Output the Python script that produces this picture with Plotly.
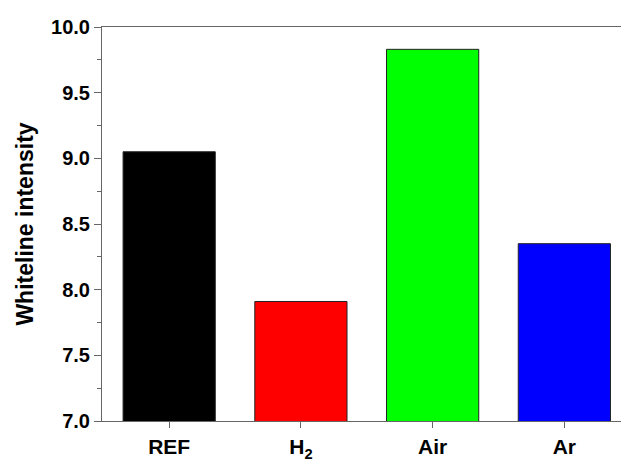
import plotly.graph_objects as go

# Whiteline intensity per treatment atmosphere
categories = ["REF", "H<sub>2</sub>", "Air", "Ar"]
intensity = [9.05, 7.91, 9.83, 8.35]
bar_colors = ["#000000", "#ff0000", "#00ff00", "#0000ff"]
y_ticks = [7.0, 7.5, 8.0, 8.5, 9.0, 9.5, 10.0]
y_tick_text = ["7.0", "7.5", "8.0", "8.5", "9.0", "9.5", "10.0"]

axis_grey = "#666666"
font_family = "Liberation Sans, Arial, sans-serif"

fig = go.Figure(
    go.Bar(
        x=list(range(len(categories))),
        y=intensity,
        marker=dict(color=bar_colors, line=dict(color="#222222", width=1)),
        width=0.70,
        base=0,
    )
)

fig.update_layout(
    width=621,
    height=462,
    margin=dict(l=102, r=0, t=27, b=41),
    paper_bgcolor="white",
    plot_bgcolor="white",
    showlegend=False,
    font=dict(family=font_family, color="#000000"),
)

fig.update_xaxes(
    range=[-0.51, 3.43],
    tickmode="array",
    tickvals=list(range(len(categories))),
    ticktext=[f"<b>{c}</b>" for c in categories],
    tickfont=dict(size=21, family=font_family, color="#000000"),
    ticks="outside",
    ticklen=6,
    tickwidth=1,
    tickcolor=axis_grey,
    ticklabelstandoff=1,
    automargin=False,
    showline=True,
    linecolor=axis_grey,
    linewidth=1,
    mirror=True,
    showgrid=False,
    zeroline=False,
)

fig.update_yaxes(
    range=[7.0, 10.0],
    tickmode="array",
    tickvals=y_ticks,
    ticktext=[f"<b>{t}</b>" for t in y_tick_text],
    tickfont=dict(size=20, family=font_family, color="#000000"),
    ticks="outside",
    ticklen=7,
    tickwidth=1,
    tickcolor=axis_grey,
    minor=dict(dtick=0.25, ticks="outside", ticklen=4, tickcolor=axis_grey, showgrid=False),
    showline=True,
    linecolor=axis_grey,
    linewidth=1,
    mirror=False,
    showgrid=False,
    zeroline=False,
    automargin=False,
    title=dict(
        text="<b>Whiteline intensity</b>",
        font=dict(size=23, family=font_family, color="#000000"),
        standoff=11,
    ),
)

fig.write_html("out.html")
